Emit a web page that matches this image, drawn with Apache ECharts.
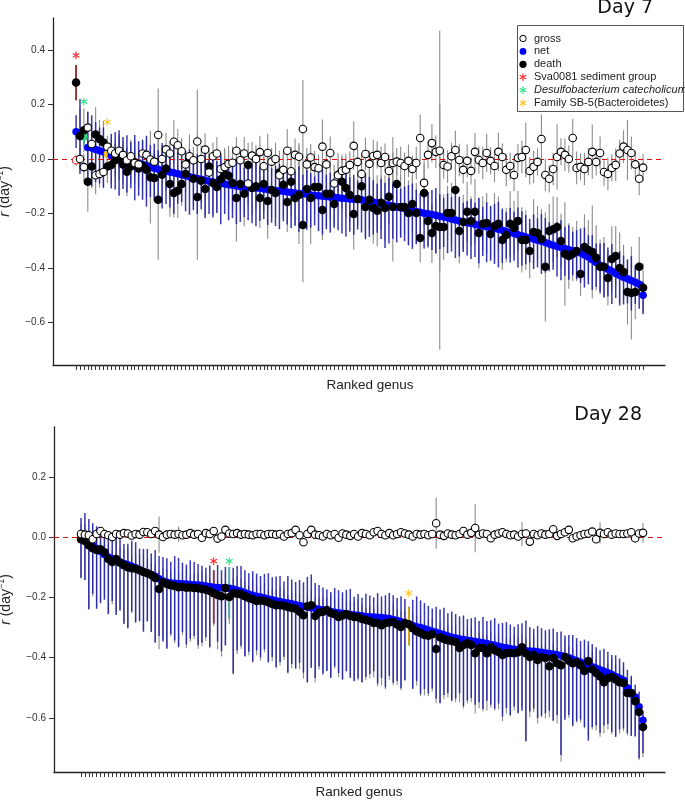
<!DOCTYPE html>
<html><head><meta charset="utf-8">
<script src="https://cdn.jsdelivr.net/npm/echarts@6/dist/echarts.min.js"></script>
<style>html,body{margin:0;padding:0;background:#fff}#c{width:685px;height:800px}</style>
</head><body><div id="c"></div>
<script>
// ---------------- Day 7 (146 ranked genera) ----------------
const d7Net = [0.10,0.095,0.08,0.042,0.04,0.035,0.03,0.025,0.018,0.012,
0.008,0.005,0.0,-0.003,-0.008,-0.012,-0.015,-0.02,-0.025,-0.03,
-0.034,-0.038,-0.042,-0.045,-0.048,-0.051,-0.054,-0.058,-0.062,-0.065,
-0.068,-0.072,-0.075,-0.078,-0.082,-0.085,-0.088,-0.09,-0.092,-0.095,
-0.097,-0.099,-0.101,-0.103,-0.105,-0.106,-0.107,-0.108,-0.11,-0.112,
-0.114,-0.116,-0.118,-0.119,-0.121,-0.123,-0.125,-0.127,-0.128,-0.13,
-0.132,-0.134,-0.135,-0.137,-0.138,-0.14,-0.141,-0.142,-0.144,-0.145,
-0.147,-0.148,-0.149,-0.15,-0.153,-0.156,-0.158,-0.161,-0.164,-0.167,
-0.17,-0.173,-0.176,-0.179,-0.182,-0.186,-0.19,-0.193,-0.196,-0.199,
-0.201,-0.204,-0.207,-0.21,-0.213,-0.216,-0.22,-0.224,-0.228,-0.231,
-0.234,-0.237,-0.24,-0.243,-0.246,-0.249,-0.252,-0.255,-0.258,-0.262,
-0.266,-0.27,-0.274,-0.278,-0.282,-0.286,-0.29,-0.294,-0.298,-0.302,
-0.307,-0.312,-0.317,-0.321,-0.325,-0.329,-0.333,-0.337,-0.341,-0.345,
-0.352,-0.36,-0.37,-0.38,-0.39,-0.398,-0.405,-0.412,-0.42,-0.428,
-0.434,-0.44,-0.446,-0.452,-0.46,-0.50];
const d7NetUp = [0.06,0.125,0.03,0.13,0.12,0.10,0.085,0.09,0.03,0.08,
0.09,0.10,0.08,0.09,0.07,0.10,0.08,0.09,0.11,0.08,
0.09,0.07,0.10,0.08,0.09,0.11,0.08,0.07,0.09,0.10,
0.08,0.09,0.07,0.10,0.08,0.09,0.08,0.11,0.07,0.09,
0.08,0.10,0.09,0.07,0.08,0.09,0.10,0.08,0.07,0.09,
0.08,0.09,0.10,0.07,0.08,0.09,0.08,0.10,0.07,0.09,
0.08,0.07,0.09,0.10,0.08,0.09,0.07,0.08,0.09,0.10,
0.08,0.09,0.07,0.08,0.10,0.09,0.08,0.07,0.09,0.08,
0.10,0.08,0.09,0.07,0.08,0.09,0.10,0.08,0.07,0.09,
0.08,0.09,0.10,0.08,0.07,0.09,0.08,0.10,0.09,0.07,
0.08,0.09,0.08,0.10,0.07,0.09,0.08,0.09,0.10,0.08,
0.07,0.09,0.08,0.10,0.09,0.08,0.07,0.09,0.08,0.10,
0.09,0.08,0.07,0.09,0.10,0.08,0.09,0.07,0.08,0.09,
0.10,0.08,0.09,0.07,0.08,0.09,0.08,0.10,0.07,0.09,
0.08,0.07,0.09,0.06,0.07,0.05];
const d7NetDown = [0.06,0.15,0.03,0.13,0.14,0.12,0.12,0.13,0.03,0.12,
0.12,0.14,0.11,0.12,0.10,0.14,0.12,0.13,0.15,0.11,
0.12,0.11,0.14,0.12,0.13,0.15,0.11,0.10,0.13,0.14,
0.12,0.13,0.11,0.14,0.12,0.13,0.11,0.15,0.11,0.13,
0.12,0.14,0.13,0.11,0.12,0.13,0.14,0.12,0.11,0.13,
0.12,0.13,0.14,0.11,0.12,0.13,0.12,0.14,0.11,0.13,
0.12,0.11,0.13,0.14,0.12,0.13,0.11,0.12,0.13,0.14,
0.12,0.13,0.11,0.12,0.14,0.13,0.12,0.11,0.13,0.16,
0.14,0.12,0.13,0.11,0.12,0.13,0.14,0.12,0.11,0.13,
0.12,0.13,0.14,0.12,0.11,0.13,0.12,0.14,0.13,0.11,
0.12,0.13,0.12,0.14,0.11,0.13,0.12,0.13,0.14,0.12,
0.10,0.11,0.10,0.12,0.11,0.10,0.09,0.11,0.10,0.12,
0.11,0.10,0.09,0.11,0.12,0.10,0.11,0.09,0.10,0.11,
0.12,0.10,0.11,0.09,0.10,0.11,0.10,0.12,0.09,0.11,
0.10,0.09,0.11,0.08,0.09,0.07];
const d7Death = [0.28,0.084,0.105,-0.084,-0.028,0.09,0.073,0.06,-0.028,-0.022,
-0.005,0.003,-0.02,-0.047,-0.028,-0.012,-0.035,-0.025,-0.04,-0.067,
-0.07,-0.15,-0.058,-0.035,-0.092,-0.125,-0.117,-0.092,-0.055,0.0,
-0.073,-0.14,-0.08,-0.11,-0.028,-0.088,-0.103,-0.075,-0.055,-0.062,
-0.088,-0.143,-0.092,-0.128,-0.022,-0.107,-0.1,-0.143,-0.092,-0.154,
-0.114,-0.125,-0.05,-0.095,-0.158,-0.084,-0.143,-0.132,-0.242,-0.11,
-0.143,-0.103,-0.103,-0.187,-0.128,-0.128,-0.165,-0.058,-0.084,-0.107,
-0.132,-0.202,-0.147,-0.1,-0.176,-0.15,-0.18,-0.19,-0.161,-0.18,
-0.139,-0.176,-0.092,-0.176,-0.176,-0.198,-0.165,-0.198,-0.29,-0.125,
-0.228,-0.272,-0.246,-0.25,-0.25,-0.198,-0.198,-0.114,-0.264,-0.231,
-0.194,-0.228,-0.194,-0.272,-0.238,-0.235,-0.275,-0.246,-0.238,-0.297,
-0.279,-0.238,-0.253,-0.228,-0.297,-0.297,-0.338,-0.268,-0.272,-0.294,
-0.396,-0.264,-0.258,-0.25,-0.301,-0.349,-0.356,-0.349,-0.338,-0.422,
-0.323,-0.334,-0.341,-0.363,-0.396,-0.396,-0.437,-0.367,-0.356,-0.4,
-0.415,-0.488,-0.492,-0.488,-0.396,-0.473];
const d7DeathErr = [0.065,0.1,0.08,0.11,0.08,0.1,0.07,0.08,0.06,0.07,
0.06,0.08,0.07,0.09,0.06,0.08,0.07,0.09,0.1,0.17,
0.09,0.22,0.1,0.08,0.12,0.09,0.1,0.08,0.07,0.09,
0.1,0.23,0.08,0.1,0.07,0.12,0.09,0.08,0.09,0.11,
0.1,0.16,0.1,0.12,0.08,0.1,0.09,0.11,0.1,0.14,
0.1,0.09,0.08,0.12,0.11,0.13,0.1,0.18,0.21,0.12,
0.17,0.1,0.09,0.11,0.12,0.1,0.09,0.08,0.1,0.11,
0.1,0.13,0.1,0.09,0.12,0.11,0.13,0.13,0.1,0.12,
0.1,0.2,0.09,0.11,0.1,0.12,0.1,0.11,0.09,0.12,
0.1,0.11,0.1,0.45,0.12,0.1,0.11,0.09,0.12,0.1,
0.11,0.09,0.12,0.13,0.1,0.11,0.1,0.12,0.1,0.11,
0.1,0.12,0.1,0.11,0.12,0.11,0.1,0.12,0.1,0.11,
0.2,0.1,0.12,0.11,0.1,0.19,0.12,0.1,0.11,0.08,
0.12,0.11,0.17,0.12,0.1,0.11,0.1,0.12,0.11,0.13,
0.1,0.12,0.17,0.1,0.11,0.09];
const d7Gross = [-0.005,0.0,-0.03,0.115,0.055,-0.06,-0.055,-0.048,0.045,0.03,
0.02,0.03,0.015,-0.005,0.01,-0.015,-0.02,0.02,0.015,-0.002,
-0.01,0.088,0.0,0.035,0.02,0.063,0.05,0.028,-0.02,0.01,
-0.005,0.064,0.0,0.034,-0.05,0.01,0.02,-0.037,-0.03,-0.018,
-0.014,0.03,-0.005,0.02,-0.09,0.012,0.0,0.025,-0.027,0.022,
-0.01,0.0,-0.06,-0.04,0.03,-0.045,0.015,0.008,0.11,-0.02,
0.005,-0.03,-0.034,0.045,-0.02,0.022,-0.09,-0.06,-0.044,-0.04,
-0.022,0.048,-0.011,-0.055,0.018,-0.018,0.011,0.015,-0.015,0.007,
-0.044,-0.015,-0.01,-0.015,-0.026,-0.007,-0.037,-0.015,0.077,-0.088,
0.015,0.058,0.026,0.03,-0.022,-0.028,0.01,0.033,-0.004,-0.04,
-0.007,-0.044,0.026,-0.004,-0.015,0.022,-0.007,-0.026,0.026,0.007,
-0.04,-0.026,-0.059,0.004,0.007,0.033,-0.044,-0.029,-0.011,0.073,
-0.059,-0.073,-0.037,0.007,0.026,0.015,0.0,0.077,-0.033,-0.029,
-0.037,-0.011,0.026,-0.011,0.022,-0.048,-0.055,-0.033,-0.022,0.02,
0.045,0.033,0.022,-0.02,-0.073,-0.032];
const d7GrossErr = [0.02,0.04,0.05,0.06,0.05,0.07,0.05,0.06,0.04,0.05,
0.04,0.06,0.05,0.04,0.06,0.05,0.04,0.05,0.06,0.05,
0.04,0.17,0.05,0.06,0.04,0.08,0.06,0.05,0.05,0.06,
0.05,0.19,0.05,0.06,0.07,0.05,0.06,0.05,0.07,0.05,
0.06,0.05,0.04,0.06,0.08,0.05,0.05,0.06,0.05,0.07,
0.05,0.06,0.07,0.06,0.08,0.05,0.06,0.05,0.18,0.06,
0.05,0.06,0.05,0.1,0.05,0.06,0.07,0.06,0.05,0.06,
0.05,0.09,0.05,0.07,0.06,0.05,0.06,0.05,0.06,0.05,
0.06,0.095,0.05,0.06,0.05,0.06,0.05,0.06,0.085,0.07,
0.05,0.07,0.06,0.44,0.05,0.06,0.05,0.07,0.06,0.05,
0.06,0.05,0.07,0.05,0.06,0.07,0.05,0.06,0.07,0.05,
0.06,0.05,0.06,0.05,0.06,0.1,0.05,0.06,0.05,0.09,
0.06,0.05,0.06,0.12,0.05,0.06,0.05,0.07,0.06,0.05,
0.06,0.05,0.1,0.05,0.06,0.05,0.06,0.05,0.06,0.05,
0.06,0.11,0.06,0.05,0.06,0.05];
const d7SpecialRank = [1, 3, 9];
const d7StarVal = [0.38, 0.21, 0.135];

// ---------------- Day 28 (145 ranked genera) ----------------
const d28Net = [-0.005,-0.012,-0.02,-0.028,-0.038,-0.048,-0.058,-0.066,-0.072,-0.078,
-0.083,-0.088,-0.092,-0.097,-0.102,-0.108,-0.114,-0.119,-0.124,-0.13,
-0.138,-0.146,-0.15,-0.152,-0.153,-0.154,-0.155,-0.156,-0.157,-0.158,
-0.159,-0.16,-0.162,-0.164,-0.166,-0.167,-0.168,-0.169,-0.17,-0.172,
-0.176,-0.18,-0.185,-0.19,-0.193,-0.196,-0.199,-0.202,-0.205,-0.208,
-0.211,-0.214,-0.217,-0.219,-0.221,-0.224,-0.227,-0.23,-0.232,-0.234,
-0.237,-0.239,-0.242,-0.244,-0.247,-0.249,-0.251,-0.253,-0.255,-0.257,
-0.258,-0.259,-0.261,-0.263,-0.264,-0.265,-0.266,-0.267,-0.268,-0.27,
-0.273,-0.277,-0.281,-0.285,-0.289,-0.293,-0.297,-0.3,-0.304,-0.308,
-0.312,-0.316,-0.32,-0.324,-0.328,-0.332,-0.335,-0.338,-0.34,-0.342,
-0.344,-0.346,-0.348,-0.35,-0.353,-0.356,-0.359,-0.362,-0.365,-0.367,
-0.37,-0.372,-0.374,-0.376,-0.377,-0.378,-0.379,-0.38,-0.382,-0.384,
-0.386,-0.388,-0.39,-0.393,-0.396,-0.4,-0.405,-0.41,-0.415,-0.42,
-0.425,-0.43,-0.435,-0.44,-0.445,-0.45,-0.456,-0.462,-0.468,-0.475,
-0.5,-0.52,-0.53,-0.563,-0.607];
const d28NetUp = [0.068,0.092,0.08,0.074,0.074,0.071,0.081,0.063,0.07,0.075,
0.08,0.065,0.07,0.085,0.085,0.07,0.075,0.08,0.07,0.087,
0.075,0.08,0.08,0.07,0.09,0.085,0.07,0.065,0.08,0.075,
0.07,0.065,0.06,0.07,0.056,0.075,0.058,0.07,0.07,0.07,
0.08,0.084,0.075,0.07,0.08,0.075,0.07,0.08,0.085,0.075,
0.08,0.085,0.07,0.09,0.08,0.075,0.085,0.08,0.1,0.11,
0.085,0.08,0.075,0.07,0.065,0.08,0.075,0.07,0.08,0.085,
0.06,0.07,0.06,0.075,0.07,0.065,0.08,0.07,0.075,0.085,
0.08,0.075,0.085,0.08,0.057,0.085,0.1,0.09,0.085,0.08,
0.075,0.085,0.08,0.09,0.075,0.085,0.08,0.075,0.08,0.07,
0.075,0.08,0.07,0.085,0.075,0.08,0.09,0.075,0.08,0.085,
0.08,0.075,0.085,0.09,0.1,0.08,0.075,0.085,0.08,0.075,
0.08,0.085,0.075,0.08,0.07,0.075,0.08,0.075,0.07,0.08,
0.08,0.075,0.07,0.065,0.075,0.07,0.065,0.07,0.065,0.06,
0.06,0.06,0.04,0.05,0.03];
const d28NetDown = [0.13,0.13,0.22,0.16,0.2,0.17,0.15,0.19,0.14,0.18,
0.16,0.2,0.21,0.15,0.18,0.17,0.2,0.16,0.19,0.22,
0.19,0.2,0.22,0.17,0.19,0.21,0.16,0.2,0.18,0.17,
0.2,0.19,0.17,0.2,0.12,0.18,0.21,0.19,0.10,0.28,
0.2,0.18,0.21,0.19,0.22,0.18,0.2,0.17,0.21,0.19,
0.22,0.2,0.18,0.23,0.2,0.21,0.19,0.22,0.25,0.2,
0.23,0.19,0.21,0.2,0.22,0.18,0.2,0.22,0.19,0.21,
0.22,0.21,0.22,0.2,0.19,0.18,0.22,0.2,0.23,0.19,
0.21,0.2,0.22,0.19,0.07,0.21,0.18,0.22,0.2,0.21,
0.19,0.22,0.23,0.2,0.19,0.21,0.2,0.18,0.22,0.2,
0.19,0.21,0.2,0.22,0.19,0.2,0.21,0.19,0.23,0.2,
0.22,0.19,0.21,0.2,0.3,0.2,0.19,0.22,0.21,0.2,
0.19,0.22,0.2,0.33,0.21,0.19,0.22,0.2,0.19,0.21,
0.25,0.2,0.19,0.21,0.18,0.17,0.19,0.2,0.17,0.16,
0.15,0.14,0.13,0.17,0.11];
const d28Death = [-0.007,-0.013,-0.027,-0.037,-0.043,-0.04,-0.05,-0.073,-0.083,-0.073,
-0.085,-0.093,-0.1,-0.103,-0.105,-0.11,-0.116,-0.12,-0.126,-0.136,
-0.172,-0.15,-0.156,-0.16,-0.162,-0.166,-0.165,-0.168,-0.167,-0.169,
-0.17,-0.172,-0.175,-0.179,-0.186,-0.192,-0.196,-0.169,-0.199,-0.186,
-0.188,-0.19,-0.196,-0.202,-0.206,-0.212,-0.21,-0.212,-0.216,-0.222,
-0.226,-0.226,-0.228,-0.232,-0.235,-0.238,-0.248,-0.259,-0.229,-0.226,
-0.262,-0.25,-0.248,-0.242,-0.252,-0.256,-0.265,-0.26,-0.255,-0.262,
-0.265,-0.266,-0.272,-0.275,-0.278,-0.285,-0.285,-0.292,-0.285,-0.283,
-0.282,-0.29,-0.298,-0.285,-0.289,-0.302,-0.312,-0.318,-0.325,-0.327,
-0.322,-0.371,-0.332,-0.338,-0.342,-0.345,-0.348,-0.368,-0.358,-0.352,
-0.358,-0.385,-0.368,-0.368,-0.385,-0.365,-0.375,-0.381,-0.391,-0.385,
-0.384,-0.385,-0.382,-0.365,-0.385,-0.398,-0.391,-0.408,-0.398,-0.401,
-0.428,-0.401,-0.418,-0.425,-0.398,-0.41,-0.418,-0.415,-0.425,-0.444,
-0.411,-0.438,-0.451,-0.462,-0.481,-0.468,-0.464,-0.472,-0.481,-0.484,
-0.517,-0.517,-0.544,-0.58,-0.63];
const d28DeathUp = [0.05,0.06,0.05,0.04,0.05,0.06,0.05,0.05,0.04,0.06,
0.05,0.05,0.06,0.04,0.05,0.05,0.06,0.05,0.04,0.05,
0.06,0.05,0.05,0.04,0.06,0.05,0.05,0.06,0.04,0.05,
0.05,0.06,0.05,0.04,0.05,0.05,0.06,0.05,0.04,0.05,
0.06,0.05,0.05,0.04,0.06,0.05,0.05,0.06,0.04,0.05,
0.05,0.06,0.05,0.04,0.05,0.05,0.06,0.05,0.04,0.05,
0.06,0.05,0.05,0.04,0.06,0.05,0.05,0.06,0.04,0.05,
0.05,0.06,0.05,0.04,0.05,0.05,0.06,0.05,0.04,0.05,
0.06,0.05,0.05,0.04,0.06,0.05,0.05,0.06,0.04,0.05,
0.05,0.06,0.05,0.04,0.05,0.05,0.06,0.05,0.04,0.05,
0.06,0.05,0.05,0.04,0.06,0.05,0.05,0.06,0.04,0.05,
0.05,0.06,0.05,0.04,0.05,0.05,0.06,0.05,0.04,0.05,
0.06,0.05,0.05,0.04,0.06,0.05,0.05,0.06,0.04,0.05,
0.05,0.06,0.05,0.04,0.05,0.05,0.06,0.05,0.04,0.05,
0.05,0.05,0.04,0.05,0.04];
const d28DeathDown = [0.13,0.13,0.21,0.16,0.19,0.18,0.15,0.18,0.14,0.18,
0.16,0.19,0.2,0.15,0.18,0.17,0.19,0.16,0.19,0.21,
0.2,0.19,0.21,0.17,0.19,0.2,0.16,0.2,0.18,0.17,
0.2,0.19,0.17,0.19,0.11,0.18,0.2,0.19,0.09,0.27,
0.2,0.18,0.2,0.19,0.21,0.18,0.2,0.17,0.2,0.19,
0.21,0.2,0.18,0.22,0.2,0.2,0.19,0.21,0.25,0.2,
0.22,0.19,0.21,0.2,0.21,0.18,0.2,0.21,0.19,0.2,
0.21,0.21,0.21,0.2,0.19,0.18,0.21,0.2,0.22,0.19,
0.21,0.2,0.21,0.19,0.07,0.2,0.18,0.21,0.2,0.2,
0.19,0.18,0.22,0.2,0.19,0.2,0.2,0.18,0.21,0.2,
0.19,0.2,0.2,0.21,0.19,0.2,0.2,0.19,0.22,0.2,
0.21,0.19,0.2,0.2,0.29,0.2,0.19,0.21,0.2,0.2,
0.17,0.21,0.2,0.32,0.2,0.19,0.21,0.2,0.19,0.19,
0.25,0.2,0.19,0.2,0.17,0.17,0.19,0.19,0.17,0.16,
0.14,0.14,0.12,0.16,0.1];
const d28Gross = [0.01,0.008,0.006,-0.007,0.01,0.02,0.01,0.006,0.0,0.01,
0.008,0.013,0.012,0.005,0.01,0.008,0.017,0.016,0.01,0.02,
0.008,0.0,0.008,0.01,0.008,0.01,0.006,0.008,0.013,0.008,
0.01,-0.002,0.013,0.01,0.02,-0.005,0.002,0.024,0.012,0.01,
0.013,0.008,0.01,0.008,0.006,0.01,0.01,0.006,0.01,0.01,
0.008,0.01,0.002,0.01,0.013,0.024,0.006,-0.017,0.01,0.024,
0.008,0.006,0.002,0.01,0.006,0.01,-0.002,0.012,0.008,0.004,
0.01,0.002,0.013,0.01,0.006,0.016,0.02,0.01,0.006,0.013,
0.006,0.01,0.016,0.012,0.008,0.002,0.01,0.008,0.01,0.006,
0.01,0.046,0.008,0.004,0.012,0.008,0.006,0.01,0.02,0.008,
0.014,0.03,0.008,0.012,0.01,-0.004,0.008,0.012,0.016,0.01,
0.006,0.008,0.002,0.01,0.012,-0.015,0.01,0.006,0.012,0.008,
0.01,0.026,0.004,0.01,0.016,0.024,-0.004,0.002,0.006,0.01,
0.012,0.018,-0.007,0.014,0.01,0.016,0.008,0.012,0.01,0.01,
0.012,0.016,-0.004,0.012,0.014];
const d28GrossErr = [0.01,0.012,0.008,0.01,0.008,0.01,0.012,0.008,0.01,0.008,
0.01,0.008,0.012,0.01,0.008,0.01,0.008,0.01,0.012,0.008,
0.06,0.01,0.008,0.01,0.012,0.025,0.008,0.01,0.008,0.012,
0.01,0.008,0.01,0.008,0.012,0.01,0.008,0.01,0.012,0.008,
0.01,0.008,0.01,0.012,0.008,0.01,0.008,0.01,0.012,0.008,
0.01,0.008,0.012,0.01,0.008,0.01,0.008,0.012,0.01,0.008,
0.01,0.008,0.01,0.012,0.008,0.01,0.008,0.01,0.012,0.008,
0.01,0.008,0.012,0.01,0.008,0.01,0.008,0.012,0.01,0.008,
0.01,0.008,0.01,0.012,0.008,0.01,0.008,0.01,0.012,0.008,
0.01,0.085,0.01,0.008,0.012,0.01,0.008,0.01,0.012,0.008,
0.01,0.08,0.008,0.01,0.012,0.008,0.01,0.008,0.012,0.01,
0.008,0.01,0.012,0.04,0.008,0.01,0.012,0.008,0.01,0.012,
0.008,0.01,0.012,0.01,0.008,0.01,0.012,0.008,0.01,0.008,
0.01,0.012,0.008,0.035,0.01,0.008,0.012,0.01,0.008,0.01,
0.012,0.01,0.008,0.01,0.033];
const d28SpecialRank = [35, 39, 85];
const d28StarVal = [-0.08, -0.08, -0.186];

// ---------------- labels ----------------
const panelTitles = ['Day 7', 'Day 28'];
const xAxisTitle = 'Ranked genus';
const legendLabels = ['gross', 'net', 'death', 'Sva0081 sediment group', 'Desulfobacterium catecholicum', 'Family SB-5(Bacteroidetes)'];
const yTicksTop = [-0.6, -0.4, -0.2, 0, 0.2, 0.4];
const yTicksBottom = [-0.6, -0.4, -0.2, 0, 0.2];

// ---------------- styling ----------------
const FONT = 'Liberation Sans, Arial, Helvetica, sans-serif';
const GREY = '#8c8c8c';
const BLUEBAR = 'rgba(28,28,165,0.88)';
const BLUE = '#0000ff';
const STAR_COLORS = ['#ff2e2e', '#2fe48f', '#ffc62a'];
const SPEC_BAR_D7 = ['#8e1b1b', '#2fd07a', '#e8b820'];
const SPEC_BAR_D28 = ['#b02828', '#3cc486', '#d8aa20'];

function ranksOf(arr){ return arr.map((v,i)=>i+1); }
function barsAsym(vals, up, down){ return vals.map((v,i)=>[i+1, v-down[i], v+up[i]]); }
function barsSym(vals, err){ return vals.map((v,i)=>[i+1, v-err[i], v+err[i]]); }

function errSeries(gi, data, color, width, z, extra){
  return Object.assign({
    type:'custom', xAxisIndex:gi, yAxisIndex:gi, z:z, silent:true, clip:false,
    encode:{x:0, y:[1,2]}, data:data,
    renderItem:function(params, api){
      const a = api.coord([api.value(0), api.value(1)]);
      const b = api.coord([api.value(0), api.value(2)]);
      return {type:'line', shape:{x1:a[0], y1:a[1], x2:b[0], y2:b[1]}, style:{stroke:color, lineWidth:width}};
    }
  }, extra || {});
}
function starLines(x, y, color){
  const r = 3.8, c = r*0.866, s = r*0.5;
  return [[0,-r,0,r],[-c,-s,c,s],[-c,s,c,-s]].map(l => ({type:'line',
    shape:{x1:x+l[0], y1:y+l[1], x2:x+l[2], y2:y+l[3]}, style:{stroke:color, lineWidth:1.2}}));
}
function starSeries(gi, rank, val, color){
  return {type:'custom', xAxisIndex:gi, yAxisIndex:gi, z:9, silent:true, encode:{x:0,y:1},
    data:[[rank, val]],
    renderItem:function(params, api){
      const p = api.coord([api.value(0), api.value(1)]);
      return {type:'group', children: starLines(p[0], p[1], color)};
    }};
}

function panelSeries(gi, net, netUp, netDown, death, deathUp, deathDown, gross, grossErr, specRanks, starVals, specBar, specOn){
  const s = [];
  s.push(errSeries(gi, barsAsym(death, deathUp, deathDown), GREY, 1.1, 1, {
    markLine:{silent:true, symbol:'none', label:{show:false}, animation:false,
      lineStyle:{color:'#e01010', type:[5,4], width:1}, data:[{yAxis:0}]}
  }));
  s.push(errSeries(gi, barsSym(gross, grossErr), GREY, 1.1, 1));
  s.push(errSeries(gi, barsAsym(net, netUp, netDown), BLUEBAR, 1.5, 2));
  specRanks.forEach((r, k) => {
    const i = r - 1;
    const useDeath = specOn[k] === 'death';
    const v = useDeath ? death[i] : net[i];
    const lo = useDeath ? v - deathDown[i] : v - netDown[i];
    const hi = useDeath ? v + deathUp[i] : v + netUp[i];
    s.push(errSeries(gi, [[r, lo, hi]], specBar[k], 1.6, 3));
  });
  s.push({type:'scatter', xAxisIndex:gi, yAxisIndex:gi, z:4, silent:true, symbolSize:7.5,
    itemStyle:{color:BLUE, opacity:1}, data: net.map((v,i)=>[i+1, v])});
  s.push({type:'scatter', xAxisIndex:gi, yAxisIndex:gi, z:5, silent:true, symbolSize:8.5,
    itemStyle:{color:'#000', opacity:1}, data: death.map((v,i)=>[i+1, v])});
  s.push({type:'scatter', xAxisIndex:gi, yAxisIndex:gi, z:6, silent:true, symbolSize:7.5,
    itemStyle:{color:'#fff', borderColor:'#000', borderWidth:1.1, opacity:1}, data: gross.map((v,i)=>[i+1, v])});
  specRanks.forEach((r, k) => s.push(starSeries(gi, r, starVals[k], STAR_COLORS[k])));
  return s;
}

const d7Series = panelSeries(0, d7Net, d7NetUp, d7NetDown, d7Death, d7DeathErr, d7DeathErr, d7Gross, d7GrossErr,
  d7SpecialRank, d7StarVal, SPEC_BAR_D7, ['death','net','net']);
// highlight colored points on Day 7
const d7NetScatter = d7Series.find(s => s.type === 'scatter' && s.itemStyle.color === BLUE);
d7NetScatter.data[2] = {value:[3, d7Net[2]], itemStyle:{color:'#2fd07a'}};
d7NetScatter.data[8] = {value:[9, d7Net[8]], itemStyle:{color:'#f2c21c'}};
const d7GrossScatter = d7Series.find(s => s.type === 'scatter' && s.itemStyle.color === '#fff');
d7GrossScatter.data[0] = {value:[1, d7Gross[0]], itemStyle:{borderColor:'#ff2020'}};

const d28Series = panelSeries(1, d28Net, d28NetUp, d28NetDown, d28Death, d28DeathUp, d28DeathDown, d28Gross, d28GrossErr,
  d28SpecialRank, d28StarVal, SPEC_BAR_D28, ['net','net','net']);

function fmt(v){ const a = Math.abs(v).toFixed(1); return v < -1e-9 ? '\u2212' + a : a; }

function yAxisCfg(gi, min, max, ticks){
  return {gridIndex:gi, type:'value', min:min, max:max,
    name:'{i|r} (day{s|\u22121})', nameLocation:'middle', nameGap:30,
    nameTextStyle:{fontSize:14, fontFamily:FONT, color:'#222', lineHeight:18,
      rich:{i:{fontStyle:'italic', fontSize:14, fontFamily:FONT, color:'#222'},
            s:{fontSize:9, fontFamily:FONT, color:'#222', verticalAlign:'top', lineHeight:12}}},
    axisLine:{show:true, onZero:false, lineStyle:{color:'#222', width:1.3}},
    axisTick:{show:true, length:5, customValues:ticks, lineStyle:{color:'#333', width:1}},
    axisLabel:{customValues:ticks, formatter:fmt, fontSize:10, fontFamily:FONT, color:'#333', margin:8},
    splitLine:{show:false}};
}
function xAxisCfg(gi, min, max, ranks){
  return {gridIndex:gi, type:'value', min:min, max:max,
    axisLine:{show:true, onZero:false, lineStyle:{color:'#222', width:1.3}},
    axisTick:{show:true, length:5, customValues:ranks, lineStyle:{color:'#333', width:1}},
    axisLabel:{show:false}, splitLine:{show:false}};
}

// legend drawn as graphics
const legendChildren = [{type:'rect', shape:{x:517.5, y:25.5, width:166, height:86},
  style:{fill:'#fff', stroke:'#555', lineWidth:1}}];
legendLabels.forEach((lab, k) => {
  const cy = 38.5 + k*12.9;
  if (k === 0) legendChildren.push({type:'circle', shape:{cx:523, cy:cy, r:3.2}, style:{fill:'#fff', stroke:'#000', lineWidth:1}});
  else if (k === 1) legendChildren.push({type:'circle', shape:{cx:523, cy:cy, r:3.4}, style:{fill:BLUE}});
  else if (k === 2) legendChildren.push({type:'circle', shape:{cx:523, cy:cy, r:3.6}, style:{fill:'#000'}});
  else starLines(523, cy, STAR_COLORS[k-3]).forEach(e => legendChildren.push(e));
  legendChildren.push({type:'text', style:{text:lab, x:534, y:cy, fill:'#222', fontSize:11, fontFamily:FONT,
    fontStyle: k === 4 ? 'italic' : 'normal', verticalAlign:'middle', align:'left'}});
});

const option = {
  animation:false,
  backgroundColor:'#fff',
  grid:[
    {left:53, top:18, width:612, height:347, outerBoundsMode:'none', containLabel:false},
    {left:54, top:427, width:611, height:345, outerBoundsMode:'none', containLabel:false}
  ],
  xAxis:[ xAxisCfg(0, -4.9, 151.6, ranksOf(d7Net)), xAxisCfg(1, -5.92, 150.64, ranksOf(d28Net)) ],
  yAxis:[ yAxisCfg(0, -0.756, 0.517, yTicksTop), yAxisCfg(1, -0.779, 0.365, yTicksBottom) ],
  series: d7Series.concat(d28Series),
  graphic:[
    {type:'text', z:100, style:{text:panelTitles[0], x:653, y:8.5, align:'right', verticalAlign:'middle',
      fontSize:19, fontFamily:'DejaVu Sans, sans-serif', fill:'#111'}},
    {type:'text', z:100, style:{text:panelTitles[1], x:642, y:415.5, align:'right', verticalAlign:'middle',
      fontSize:19, fontFamily:'DejaVu Sans, sans-serif', fill:'#111'}},
    {type:'text', z:100, style:{text:xAxisTitle, x:370, y:385.5, align:'center', verticalAlign:'middle',
      fontSize:13.5, fontFamily:FONT, fill:'#222'}},
    {type:'text', z:100, style:{text:xAxisTitle, x:359, y:792, align:'center', verticalAlign:'middle',
      fontSize:13.5, fontFamily:FONT, fill:'#222'}},
    {type:'group', z:100, children:legendChildren}
  ]
};
const chart = echarts.init(document.getElementById('c'), null, {renderer:'canvas'});
chart.setOption(option);
</script>
</body></html>
